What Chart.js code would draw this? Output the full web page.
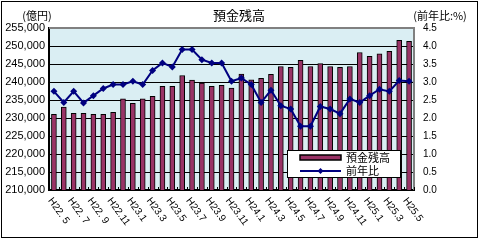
<!DOCTYPE html>
<html>
<head>
<meta charset="utf-8">
<script src="https://cdn.jsdelivr.net/npm/chart.js@4/dist/chart.umd.min.js"></script>
<style>
  html, body { margin: 0; padding: 0; background: #fff; }
  #wrap { width: 480px; height: 240px; position: relative; }
</style>
</head>
<body>
<div id="wrap"><canvas id="chart" width="480" height="240"></canvas></div>
<script>
// ===== DATA =====
var months = [
  'H22. 5','H22. 6','H22. 7','H22. 8','H22. 9','H22.10','H22.11','H22.12',
  'H23.1','H23.2','H23.3','H23.4','H23.5','H23.6','H23.7','H23.8','H23.9','H23.10','H23.11','H23.12',
  'H24.1','H24.2','H24.3','H24.4','H24.5','H24.6','H24.7','H24.8','H24.9','H24.10','H24.11','H24.12',
  'H25.1','H25.2','H25.3','H25.4','H25.5'
];
// 預金残高（億円）
var deposits = [
  231000, 233000, 231300, 231300, 231000, 231000, 231600, 235300,
  234100, 235300, 236000, 238800, 238800, 241800, 240500, 239700, 238800, 239100, 238300, 242200,
  240600, 241000, 242100, 244300, 244100, 246000, 244300, 245100, 244300, 244100, 244300, 248200,
  247100, 247800, 248500, 251600, 251300
];
// 前年比（%）
var yoy = [
  2.74, 2.43, 2.74, 2.42, 2.62, 2.82, 2.93, 2.93,
  3.02, 2.93, 3.32, 3.53, 3.42, 3.90, 3.90, 3.62, 3.53, 3.53, 3.02, 3.11,
  2.93, 2.43, 2.77, 2.34, 2.25, 1.77, 1.77, 2.32, 2.25, 2.12, 2.53, 2.43,
  2.62, 2.80, 2.74, 3.04, 3.02
];
var leftTicks = { min: 210000, max: 255000, step: 5000 };
var rightTicks = { min: 0, max: 4.5, step: 0.5 };

var BAR_COLOR = '#993366';
var LINE_COLOR = '#000080';
var JP_FONT = '"Noto Sans CJK JP", "Liberation Sans", sans-serif';

// ===== PLUGINS =====
var frame = {
  id: 'frame',
  beforeDraw: function(chart) {
    var ctx = chart.ctx, a = chart.chartArea;
    ctx.save();
    ctx.fillStyle = '#fff';
    ctx.fillRect(0, 0, chart.width, chart.height);
    ctx.fillStyle = '#DAEEF3';
    ctx.fillRect(a.left, a.top, a.right - a.left, a.bottom - a.top);
    ctx.strokeStyle = '#000';
    ctx.lineWidth = 1;
    ctx.strokeRect(1.5, 1.5, 476, 236);
    ctx.restore();
  },
  afterDraw: function(chart) {
    var ctx = chart.ctx, a = chart.chartArea;
    var x = chart.scales.x;
    ctx.save();
    ctx.direction = 'ltr';
    // plot border top/right
    ctx.strokeStyle = '#808080';
    ctx.lineWidth = 2;
    ctx.beginPath();
    ctx.moveTo(a.left, a.top);
    ctx.lineTo(a.right, a.top);
    ctx.lineTo(a.right, a.bottom);
    ctx.stroke();
    // small tick marks at category boundaries
    ctx.strokeStyle = '#000';
    ctx.lineWidth = 1;
    var step = (x.getPixelForValue(1) - x.getPixelForValue(0));
    ctx.beginPath();
    for (var i = 0; i <= months.length; i++) {
      var px = Math.round(x.getPixelForValue(0) - step / 2 + i * step) + 0.5;
      ctx.moveTo(px, a.bottom);
      ctx.lineTo(px, a.bottom - 3);
    }
    ctx.stroke();

    // titles
    ctx.fillStyle = '#000';
    ctx.textBaseline = 'middle';
    ctx.font = '13px ' + JP_FONT;
    ctx.textAlign = 'center';
    ctx.fillText('預金残高', 239, 15);
    ctx.font = '11px ' + JP_FONT;
    ctx.fillText('(億円)', 37, 16);
    ctx.fillText('(前年比:%)', 440, 16);

    // rotated x labels (every other month)
    ctx.font = '10px "Liberation Sans", sans-serif';
    ctx.textAlign = 'left';
    for (var j = 0; j < months.length; j += 2) {
      var lx = x.getPixelForValue(j);
      ctx.save();
      ctx.translate(lx - 4, a.bottom + 9);
      ctx.rotate(54 * Math.PI / 180);
      ctx.fillText(months[j], 0, 0);
      ctx.restore();
    }

    // legend box
    var lx0 = 287, ly0 = 150, lw = 113, lh = 27;
    ctx.fillStyle = '#fff';
    ctx.fillRect(lx0, ly0, lw, lh);
    ctx.strokeStyle = '#000';
    ctx.lineWidth = 1;
    ctx.strokeRect(lx0 + 0.5, ly0 + 0.5, lw, lh);
    var ds = chart.data.datasets;
    // bar swatch
    ctx.fillStyle = BAR_COLOR;
    ctx.fillRect(300, 155, 41, 5);
    ctx.lineWidth = 1.5;
    ctx.strokeRect(300, 155, 41, 5);
    // line swatch
    ctx.strokeStyle = LINE_COLOR;
    ctx.lineWidth = 2;
    ctx.beginPath();
    ctx.moveTo(300, 171);
    ctx.lineTo(341, 171);
    ctx.stroke();
    ctx.fillStyle = LINE_COLOR;
    ctx.beginPath();
    ctx.moveTo(320.5, 168); ctx.lineTo(323.5, 171); ctx.lineTo(320.5, 174); ctx.lineTo(317.5, 171);
    ctx.closePath();
    ctx.fill();
    ctx.fillStyle = '#000';
    ctx.font = '11px ' + JP_FONT;
    ctx.textAlign = 'left';
    ctx.fillText(ds[0].label, 346, 158);
    ctx.fillText(ds[1].label, 346, 171);
    ctx.restore();
  }
};

// ===== CHART =====
var chart = new Chart(document.getElementById('chart'), {
  type: 'bar',
  data: {
    labels: months,
    datasets: [
      {
        label: '預金残高',
        data: deposits,
        yAxisID: 'yL',
        backgroundColor: BAR_COLOR,
        borderColor: '#000',
        borderWidth: 1,
        barThickness: 5,
        order: 2
      },
      {
        type: 'line',
        label: '前年比',
        data: yoy,
        yAxisID: 'yR',
        borderColor: LINE_COLOR,
        backgroundColor: LINE_COLOR,
        borderWidth: 2,
        tension: 0,
        pointStyle: 'rectRot',
        pointRadius: 3.5,
        pointBorderWidth: 0,
        order: 1
      }
    ]
  },
  options: {
    responsive: false,
    animation: false,
    devicePixelRatio: 1,
    layout: { padding: { top: 28, left: 0, right: 0, bottom: 0 } },
    plugins: { legend: { display: false }, tooltip: { enabled: false } },
    scales: {
      x: {
        offset: true,
        grid: { display: false },
        border: { display: true, color: '#000', width: 2 },
        ticks: { display: false },
        afterFit: function(s) { s.height = 50; }
      },
      yL: {
        position: 'left',
        min: leftTicks.min,
        max: leftTicks.max,
        ticks: {
          stepSize: leftTicks.step,
          padding: 4,
          color: '#000',
          font: { family: '"Liberation Sans", sans-serif', size: 11 },
          callback: function(v) { return v.toLocaleString('en-US'); }
        },
        grid: { color: '#000', lineWidth: 1, drawTicks: false },
        border: { display: true, color: '#000', width: 2 },
        afterFit: function(s) { s.width = 49; }
      },
      yR: {
        position: 'right',
        min: rightTicks.min,
        max: rightTicks.max,
        ticks: {
          stepSize: rightTicks.step,
          padding: 9,
          color: '#000',
          font: { family: '"Liberation Sans", sans-serif', size: 10 },
          callback: function(v) { return v.toFixed(1); }
        },
        grid: { display: false, drawTicks: false },
        border: { display: false },
        afterFit: function(s) { s.width = 66; }
      }
    }
  },
  plugins: [frame]
});
</script>
</body>
</html>
